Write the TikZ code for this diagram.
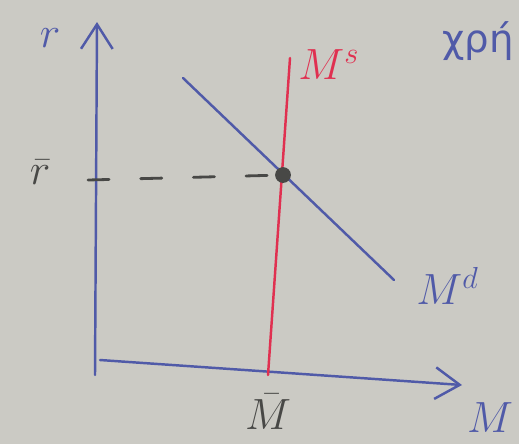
\documentclass[tikz,border=0pt]{standalone}
\usepackage{fontspec}
\newfontfamily\greekfont{DejaVu Sans}
\usetikzlibrary{positioning,arrows.meta}
\definecolor{board}{RGB}{203,202,196}
\definecolor{penblue}{RGB}{80,90,168}
\definecolor{penred}{RGB}{224,48,80}
\definecolor{pengray}{RGB}{72,72,70}
\begin{document}
\begin{tikzpicture}[
x=0.02cm,y=-0.02cm,
axis/.style={draw=penblue,line width=1.4pt,line cap=round},
curve/.style={line width=1.4pt,line cap=round},
lbl/.style={inner sep=0pt,font=\fontsize{26}{28}\selectfont},
>={Straight Barb[length=14pt,width=18pt,line width=1.4pt]}
]

\fill[board] (0,0) rectangle (519,444);
\clip (0,0) rectangle (519,444);

% axes
\coordinate (origin) at (95,375);
\coordinate (ytop) at (97,22);
\coordinate (xstart) at (100,360);
\coordinate (xend) at (462,385);
\draw[axis,->] (origin)--(ytop);
\draw[axis,->] (xstart)--(xend);

\node[lbl,text=penblue] (rlabel) at (50,38) {$r$};
\node[lbl,text=penblue] (mlabel) at (490,418) {$M$};

% money supply and demand
\coordinate (mstop) at (290,58);
\coordinate (msbot) at (268,375);
\coordinate (mdtop) at (183,78);
\coordinate (mdbot) at (394,280);
\draw[curve,penred] (mstop)--(msbot);
\draw[curve,penblue] (mdtop)--(mdbot);

\node[lbl,text=penred,anchor=south west] (mslabel) at (298,80) {$M^s$};
\node[lbl,text=penblue,anchor=south west] (mdlabel) at (416,305) {$M^d$};

% equilibrium
\node[circle,fill=pengray,inner sep=0pt,minimum size=9pt] (eq) at (283,175) {};
\coordinate (rtick) at (88,180);
\draw[pengray,line width=1.6pt,dash pattern=on 12pt off 18pt,line cap=round] (rtick)--(eq);

\node[lbl,text=pengray] (rbar) at (40,172) {$\bar r$};
\node[lbl,text=pengray] (mbar) at (268,412) {$\bar M$};

% note at the edge
\node[lbl,text=penblue,anchor=base east,font=\greekfont\fontsize{22}{24}\selectfont] (note) at (514,52) {χρή};

\end{tikzpicture}
\end{document}
